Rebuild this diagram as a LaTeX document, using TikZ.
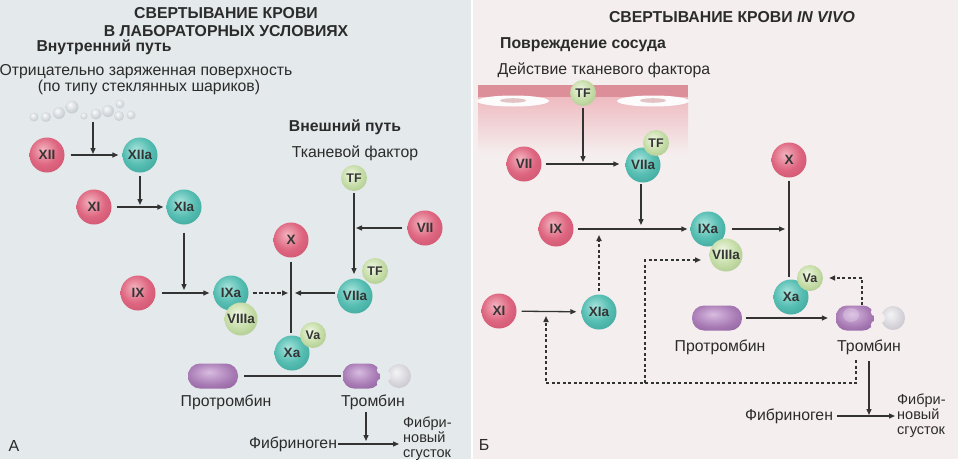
\documentclass[tikz,border=0pt]{standalone}
\usepackage{fontspec}
\setmainfont{Liberation Sans}
\usetikzlibrary{arrows.meta,calc}
\definecolor{bgL}{HTML}{E4E9EB}
\definecolor{bgR}{HTML}{F5EEEE}
\definecolor{txt}{HTML}{2B2B2B}
\definecolor{lab}{HTML}{353535}
\definecolor{lineC}{HTML}{333333}
\definecolor{redL}{HTML}{F4B4C0}
\definecolor{redB}{HTML}{DE6680}
\definecolor{redD}{HTML}{C04862}
\definecolor{tealL}{HTML}{A8E4DC}
\definecolor{tealB}{HTML}{55BDB2}
\definecolor{tealD}{HTML}{2F958B}
\definecolor{grnL}{HTML}{F0F7E4}
\definecolor{grnB}{HTML}{C6DDA8}
\definecolor{grnD}{HTML}{98B97C}
\definecolor{purL}{HTML}{D8BCE0}
\definecolor{purB}{HTML}{A97CB6}
\definecolor{purD}{HTML}{805292}
\definecolor{gryL}{HTML}{F4F4F6}
\definecolor{gryB}{HTML}{D6D4DA}
\definecolor{gryD}{HTML}{B6B4BC}
\definecolor{beadL}{HTML}{FAFBFC}
\definecolor{beadB}{HTML}{CDD2D6}
\definecolor{vesD}{HTML}{DC8E99}
\definecolor{vesL}{HTML}{EEBBC1}
\definecolor{vesN}{HTML}{E2C4C6}
\pgfdeclareradialshading{redball}{\pgfpoint{-6bp}{8bp}}{color(0bp)=(redL); color(20bp)=(redB); color(46bp)=(redD); color(70bp)=(redD)}
\pgfdeclareradialshading{tealball}{\pgfpoint{-6bp}{8bp}}{color(0bp)=(tealL); color(20bp)=(tealB); color(46bp)=(tealD); color(70bp)=(tealD)}
\pgfdeclareradialshading{grnball}{\pgfpoint{-6bp}{8bp}}{color(0bp)=(grnL); color(20bp)=(grnB); color(46bp)=(grnD); color(70bp)=(grnD)}
\pgfdeclareradialshading{purball}{\pgfpoint{-4bp}{8bp}}{color(0bp)=(purL); color(22bp)=(purB); color(46bp)=(purD); color(70bp)=(purD)}
\pgfdeclareradialshading{gryball}{\pgfpoint{-6bp}{8bp}}{color(0bp)=(gryL); color(22bp)=(gryB); color(46bp)=(gryD); color(70bp)=(gryD)}
\pgfdeclareradialshading{beadball}{\pgfpoint{-8bp}{10bp}}{color(0bp)=(beadL); color(24bp)=(beadB); color(50bp)=(beadB!85!black); color(70bp)=(beadB!85!black)}
\begin{document}
\begin{tikzpicture}[x=1pt,y=-1pt,
  fac/.style={circle,inner sep=0pt,font=\fontsize{13.5}{15}\selectfont\bfseries,text=lab},
  redf/.style={fac,minimum size=35pt,shading=redball},
  tealf/.style={fac,minimum size=35pt,shading=tealball},
  grnf/.style={fac,minimum size=26pt,shading=grnball,font=\fontsize{12.5}{14}\selectfont\bfseries},
  grnbig/.style={fac,minimum size=33pt,shading=grnball},
  lbl/.style={font=\fontsize{15.8}{16}\selectfont,text=txt,inner sep=0pt},
  blbl/.style={font=\fontsize{15.8}{17.5}\selectfont\bfseries,text=txt,inner sep=0pt},
  clot/.style={lbl,align=left,anchor=west,font=\fontsize{14.5}{15}\selectfont},
  arr/.style={-{Triangle[length=6pt,width=5pt]},line width=1.3pt,draw=lineC},
  ln/.style={line width=1.3pt,draw=lineC},
  dsh/.style={arr,dash pattern=on 3pt off 2.5pt,line width=1.6pt},
  ldsh/.style={arr,dash pattern=on 4pt off 2pt,line width=1.6pt},
  prot/.style={rectangle,rounded corners=12pt,minimum width=50pt,minimum height=25pt,inner sep=0pt,shading=purball},
  thrbox/.style={rectangle,minimum width=38pt,minimum height=25pt,inner sep=0pt}
]
\useasboundingbox (0,0) rectangle (958,466);
\fill[white] (0,0) rectangle (958,466);
\fill[bgL] (0,0) rectangle (471,459);
\fill[bgR] (473,0) rectangle (958,459);

% ================= LEFT PANEL =================
\node[blbl,align=center] (titleL) at (226,22) {СВЕРТЫВАНИЕ КРОВИ\\В ЛАБОРАТОРНЫХ УСЛОВИЯХ};
\node[blbl] (intr) at (104,47) {Внутренний путь};
\node[lbl] (surf1) at (146,72) {Отрицательно заряженная поверхность};
\node[lbl] (surf2) at (149,87) {(по типу стеклянных шариков)};
\node[blbl] (extr) at (345,127) {Внешний путь};
\node[lbl] (tfact) at (355,153) {Тканевой фактор};

% glass beads
\foreach \bx/\by/\br in {34/117/4.5,46/117/5,59/113/6,72/107/6.5,84/116/3.5,96/114/5.5,108/111/6,120/104/4.5,131/115/4.5,119/116/5}
  \shade[shading=beadball] (\bx,\by) circle (\br);
\coordinate (beads) at (93,122);

\node[redf] (xii) at (47,155) {XII};
\node[tealf] (xiia) at (140,155) {XIIa};
\node[redf] (xi) at (94,207) {XI};
\node[tealf] (xia) at (184,207) {XIa};
\node[redf] (ix) at (138,293) {IX};
\node[tealf] (ixa) at (231,293) {IXa};
\node[grnbig] (viiia) at (241,319) {VIIIa};
\node[redf] (x) at (291,240) {X};
\node[grnf] (tfA) at (354,178) {TF};
\node[redf] (vii) at (425,228) {VII};
\node[tealf] (viia) at (355,296) {VIIa};
\node[grnf] (tfB) at (375,271) {TF};
\node[tealf] (xa) at (292,353) {Xa};
\node[grnf] (va) at (313,335) {Va};

\node[prot] (proA) at (213,376) {};
\node[thrbox] (thrA) at (361,376) {};
\shade[shading=purball,rounded corners=11pt] (343,363.5) rectangle (380,388.5);
\fill[bgL] (381,370) circle (4.2);
\fill[bgL] (381,383) circle (4.2);
\shade[shading=gryball] (399,376) circle (12);
\fill[bgL] (385.5,376) circle (5.5);

\node[lbl] (proAl) at (226,402) {Протромбин};
\node[lbl] (thrAl) at (373,402) {Тромбин};
\node[lbl] (fibA) at (293,444) {Фибриноген};
\node[clot] (clotA) at (403,439) {Фибри-\\новый\\сгусток};
\node[font=\fontsize{16}{17}\selectfont,text=txt] (labA) at (14,446) {А};
\coordinate (thrAd) at (366,412);

% connectors left
\draw[arr,shorten >=1pt] (beads) -- (beads |- xii);
\draw[arr,shorten <=6pt,shorten >=4pt] (xii) -- (xiia);
\draw[arr,shorten <=3pt,shorten >=2pt] (xiia) -- (xiia |- xi);
\draw[arr,shorten <=5pt,shorten >=3pt] (xi) -- (xia);
\draw[arr,shorten <=8pt,shorten >=3pt] (xia) -- (xia |- ix);
\draw[arr,shorten <=6pt,shorten >=4pt] (ix) -- (ixa);
\draw[ldsh,shorten <=4pt,shorten >=3pt] (ixa) -- (x |- ixa);
\draw[arr,shorten <=2pt,shorten >=4pt] (viia.west |- ixa) -- (x |- ixa);
\draw[ln,shorten <=4pt] (x) -- ($(x |- xa)+(0,-20)$);
\draw[arr,shorten <=2pt,shorten >=22pt] (tfA) -- (tfA |- viia);
\draw[arr,shorten <=5pt,shorten >=2pt] (vii) -- (tfA |- vii);
\draw[ln,shorten <=6pt,shorten >=1pt] (proA) -- (thrA);
\draw[arr,shorten >=3pt] (thrAd) -- (thrAd |- fibA);
\draw[arr,shorten <=1pt,shorten >=4pt] (fibA) -- (fibA -| clotA.west);

% ================= RIGHT PANEL =================
\node[blbl] (titleR) at (732,17) {СВЕРТЫВАНИЕ КРОВИ \textit{IN VIVO}};
\node[blbl] (dmg) at (583,45) {Повреждение сосуда};
\node[lbl] (tfac2) at (604,70) {Действие тканевого фактора};

% vessel wall
\fill[vesD] (478,85) rectangle (688,97);
\shade[top color=vesL,bottom color=bgR] (478,97) rectangle (688,154);
\fill[white!85!bgR] (513,101) ellipse (36 and 5.5);
\fill[vesN] (513,100.5) ellipse (13 and 2.3);
\fill[white!85!bgR] (653,101) ellipse (36 and 5.5);
\fill[vesN] (653,100.5) ellipse (13 and 2.3);

\node[grnf] (tfv) at (583,93) {TF};
\node[redf] (viiR) at (524,164) {VII};
\node[tealf] (viiaR) at (643,165) {VIIa};
\node[grnf] (tfR) at (656,143) {TF};
\node[redf] (ixR) at (556,229) {IX};
\node[tealf] (ixaR) at (708,229) {IXa};
\node[grnbig] (viiiaR) at (726,255) {VIIIa};
\node[redf] (xR) at (789,160) {X};
\node[tealf] (xaR) at (791,297) {Xa};
\node[grnf] (vaR) at (810,278) {Va};
\node[redf] (xiR) at (499,311) {XI};
\node[tealf] (xiaR) at (599,312) {XIa};

\node[prot] (proB) at (717,318) {};
\node[thrbox] (thrB) at (855,318) {};
\shade[shading=purball,rounded corners=11pt] (836,305.5) rectangle (874,330.5);
\fill[purL!60!white,opacity=0.35] (851,315) ellipse (8 and 7);
\fill[bgR] (875,312) circle (4.2);
\fill[bgR] (875,325) circle (4.2);
\shade[shading=gryball] (893,318) circle (12);
\fill[bgR] (879.5,318) circle (5.5);

\node[lbl] (proBl) at (720,347) {Протромбин};
\node[lbl] (thrBl) at (869,347) {Тромбин};
\node[lbl] (fibB) at (789,416) {Фибриноген};
\node[clot] (clotB) at (897,416) {Фибри-\\новый\\сгусток};
\node[font=\fontsize{16}{17}\selectfont,text=txt] (labB) at (484,445) {Б};

\coordinate (c1) at (862,305);
\coordinate (c2) at (856,360);
\coordinate (c3) at (546,383);
\coordinate (c4) at (645,383);
\coordinate (c5) at (701,260);
\coordinate (c6) at (869,361);
\coordinate (viiaRd) at (641,184);

% connectors right
\draw[arr,shorten <=2pt,shorten >=2pt] (tfv) -- (tfv |- viiR);
\draw[arr,shorten <=4pt,shorten >=6pt] (viiR) -- (viiaR.west |- viiR);
\draw[arr,shorten >=4pt] (viiaRd) -- (viiaRd |- ixR);
\draw[arr,shorten <=4pt,shorten >=3pt] (ixR) -- (ixaR);
\draw[arr,shorten <=6pt,shorten >=4pt] (ixaR) -- (xR |- ixaR);
\draw[ln,shorten <=3pt] (xR) -- ($(xR |- xaR)+(0,-20)$);
\draw[dsh,shorten >=6pt] (c1) |- (vaR);
\draw[dsh,shorten <=3pt,shorten >=6pt] (xiaR) -- (xiaR |- ixR);
\draw[arr,shorten <=5pt,shorten >=5pt] (xiR) -- (xiaR);
\draw[dsh] (c2) |- (c3) -- ($(c3 |- xiR)+(0,5)$);
\draw[dsh] (c4) |- (c5);
\draw[arr,shorten <=4pt,shorten >=8pt] (proB) -- (thrB);
\draw[arr,shorten >=1pt] (c6) -- (c6 |- fibB);
\draw[arr,shorten <=4pt,shorten >=2pt] (fibB) -- (fibB -| clotB.west);
\end{tikzpicture}
\end{document}
